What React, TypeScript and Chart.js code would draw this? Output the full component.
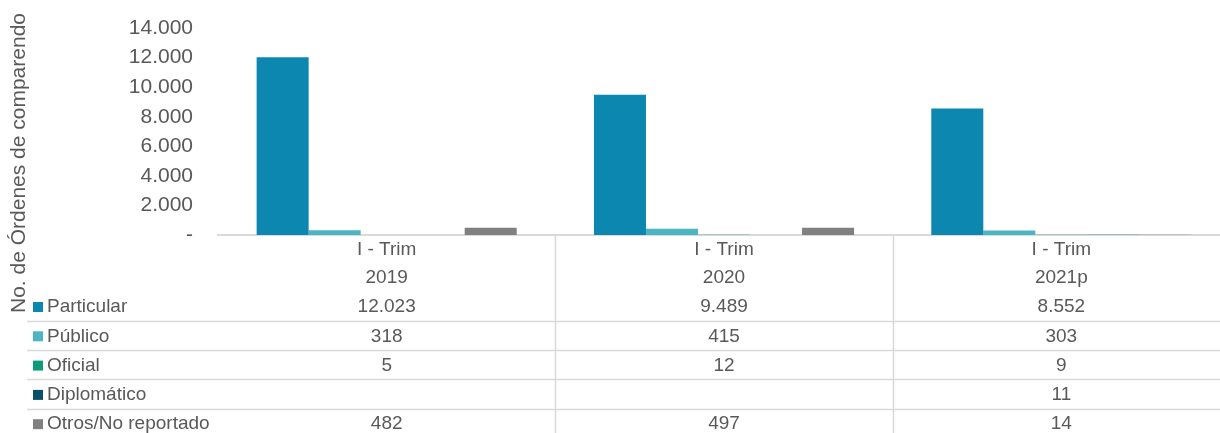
import React, { useEffect, useRef } from "react";
import { Chart, registerables } from "chart.js";

Chart.register(...registerables);

// ---- Data ----
const quarterLabels = ["I - Trim", "I - Trim", "I - Trim"];
const yearLabels = ["2019", "2020", "2021p"];
const seriesNames = ["Particular", "Público", "Oficial", "Diplomático", "Otros/No reportado"];
const particular = [12023, 9489, 8552];
const publico = [318, 415, 303];
const oficial = [5, 12, 9];
const diplomatico = [null, null, 11];
const otros = [482, 497, 14];
const seriesColors = ["#0B87B0", "#4BB5C4", "#0F9B7B", "#0C4F6B", "#808080"];
const yTickValues = [0, 2000, 4000, 6000, 8000, 10000, 12000, 14000];
const yAxisTitle = "No. de Órdenes de comparendo";

const seriesValues = [particular, publico, oficial, diplomatico, otros];

const FONT = '"Liberation Sans", Arial, sans-serif';
const TEXT = "#595959";
const LINE = "#d9d9d9";

function fmt(v: number | null): string {
  if (v === null || v === undefined) return "";
  if (v === 0) return "-";
  return String(v).replace(/\B(?=(\d{3})+(?!\d))/g, ".");
}

const tablePlugin = {
  id: "dataTable",
  afterDraw(chart: any) {
    const ctx = chart.ctx as CanvasRenderingContext2D;
    const xs = chart.scales.x;
    const area = chart.chartArea;
    const H = chart.height;
    const n = quarterLabels.length;
    const colW = (area.right - area.left) / n;
    ctx.save();

    // grid lines of the table
    ctx.strokeStyle = LINE;
    ctx.lineWidth = 1.5;
    const rowTop = 306;
    const rowStep = 29.3;
    for (let r = 0; r < seriesNames.length - 1; r++) {
      const y = Math.round(rowTop + r * rowStep + 14.6) + 0.5;
      ctx.beginPath();
      ctx.moveTo(27, y);
      ctx.lineTo(chart.width, y);
      ctx.stroke();
    }
    for (let i = 1; i < n; i++) {
      const x = Math.round(xs.getPixelForValue(i) - colW / 2) + 0.5;
      ctx.beginPath();
      ctx.moveTo(x, area.bottom);
      ctx.lineTo(x, H);
      ctx.stroke();
    }

    // header
    ctx.fillStyle = TEXT;
    ctx.font = "19px " + FONT;
    ctx.textAlign = "center";
    ctx.textBaseline = "middle";
    for (let i = 0; i < n; i++) {
      const cx = xs.getPixelForValue(i);
      ctx.fillText(quarterLabels[i], cx, 250);
      ctx.fillText(yearLabels[i], cx, 278);
    }
    // values
    seriesValues.forEach((vals, r) => {
      const y = rowTop + r * rowStep + 1;
      vals.forEach((v, i) => {
        ctx.fillText(fmt(v as any), xs.getPixelForValue(i), y);
      });
    });

    // legend keys
    ctx.textAlign = "left";
    seriesNames.forEach((name, r) => {
      const y = rowTop + r * rowStep + 1;
      ctx.fillStyle = seriesColors[r];
      ctx.fillRect(33, y - 5, 10, 10);
      ctx.fillStyle = TEXT;
      ctx.fillText(name, 47, y);
    });

    // y-axis title
    ctx.save();
    ctx.translate(19, 163);
    ctx.rotate(-Math.PI / 2);
    ctx.textAlign = "center";
    ctx.textBaseline = "middle";
    ctx.font = "21px " + FONT;
    ctx.fillStyle = TEXT;
    ctx.fillText(yAxisTitle, 0, 0);
    ctx.restore();

    ctx.restore();
  },
};

export default function App() {
  const ref = useRef<HTMLCanvasElement>(null);
  useEffect(() => {
    const chart = new Chart(ref.current as HTMLCanvasElement, {
      type: "bar",
      data: {
        labels: yearLabels,
        datasets: seriesNames.map((name, i) => ({
          label: name,
          data: seriesValues[i] as any,
          backgroundColor: seriesColors[i],
          borderWidth: 0,
          categoryPercentage: 0.771,
          barPercentage: 1,
        })),
      },
      options: {
        responsive: false,
        animation: false,
        layout: { padding: { top: 28, bottom: 198, left: 0, right: 0 } },
        plugins: { legend: { display: false }, tooltip: { enabled: false } },
        scales: {
          x: {
            grid: { display: false, drawTicks: false },
            ticks: { display: false },
            border: { display: true, color: LINE, width: 2 },
            afterFit: (s: any) => {
              s.height = 0;
              s.paddingLeft = 0;
              s.paddingRight = 0;
            },
          },
          y: {
            min: 0,
            max: 14000,
            grid: { display: false, drawTicks: false },
            border: { display: false },
            afterBuildTicks: (s: any) => {
              s.ticks = yTickValues.map((v) => ({ value: v }));
            },
            afterFit: (s: any) => {
              s.width = 218;
              s.paddingTop = 0;
              s.paddingBottom = 0;
            },
            ticks: {
              padding: 25,
              color: TEXT,
              font: { family: FONT, size: 21 },
              callback: (v: any) => fmt(Number(v)),
            },
          },
        },
      },
      plugins: [tablePlugin],
    });
    return () => chart.destroy();
  }, []);
  return (
    <div
      style={{
        position: "fixed",
        left: 0,
        top: 0,
        width: 1220,
        height: 433,
        overflow: "hidden",
        background: "#fff",
      }}
    >
      <canvas ref={ref} width={1230} height={433} style={{ display: "block" }} />
    </div>
  );
}
